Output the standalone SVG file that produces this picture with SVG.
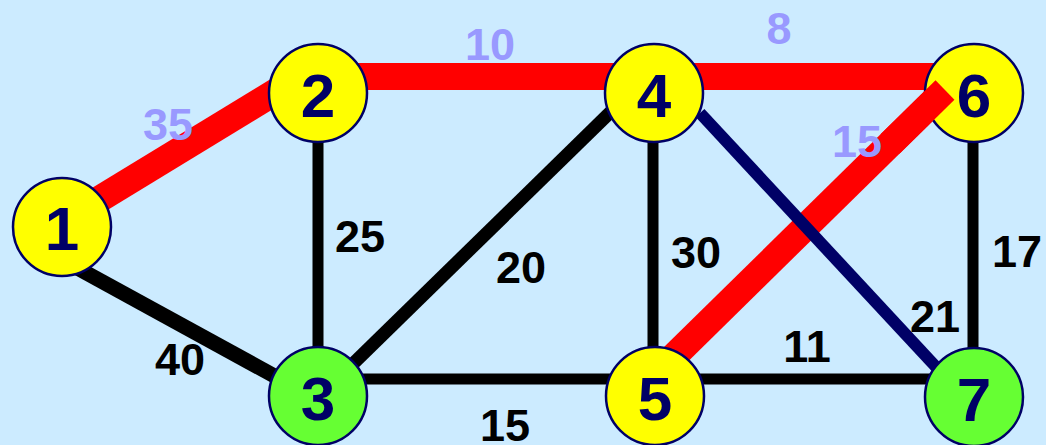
<svg xmlns="http://www.w3.org/2000/svg" width="1046" height="445" viewBox="0 0 1046 445">
<style>
.red{stroke:#FF0000;stroke-width:27;fill:none}
.blk{stroke:#000000;stroke-width:11;fill:none}
.navy{stroke:#000066;stroke-width:12;fill:none}
.node circle{stroke:#000066;stroke-width:2.5}
.yel{fill:#FFFF00}
.grn{fill:#66FF33}
.num{font-family:"Liberation Sans",Arial,sans-serif;font-weight:bold;font-size:62px;fill:#000066;text-anchor:middle}
.lbl{font-family:"Liberation Sans",Arial,sans-serif;font-weight:bold;font-size:45px;text-anchor:middle}
.pale{fill:#9999FF}
.dark{fill:#000000}
</style>
<rect width="1046" height="445" fill="#CCEBFF"/>
<g id="connectors">
<line class="red" x1="62" y1="222" x2="290" y2="83"/>
<line class="red" x1="318" y1="76.5" x2="974" y2="76.5"/>
<line class="red" x1="945" y1="90" x2="660" y2="370"/>
<line class="blk" x1="318" y1="93" x2="318" y2="396"/>
<line class="blk" x1="70" y1="264" x2="300" y2="390" style="stroke-width:15"/>
<line class="blk" x1="318" y1="398" x2="630" y2="93" style="stroke-width:13"/>
<line class="blk" x1="653" y1="93" x2="653" y2="396"/>
<line class="blk" x1="973" y1="93" x2="973" y2="396"/>
<line class="blk" x1="318" y1="379" x2="974" y2="379"/>
<line class="navy" x1="700" y1="113" x2="950" y2="382"/>
</g>
<g id="node1" class="node"><circle class="yel" cx="62" cy="227" r="49"/><text class="num" x="62" y="250">1</text></g>
<g id="node2" class="node"><circle class="yel" cx="318" cy="93" r="49"/><text class="num" x="318" y="117">2</text></g>
<g id="node3" class="node"><circle class="grn" cx="318" cy="396" r="49"/><text class="num" x="318" y="420">3</text></g>
<g id="node4" class="node"><circle class="yel" cx="654" cy="93" r="49"/><text class="num" x="654" y="117">4</text></g>
<g id="node6" class="node"><circle class="yel" cx="974" cy="93" r="49"/><text class="num" x="974" y="117">6</text></g>
<g id="node7" class="node"><circle class="grn" cx="974" cy="397" r="49"/><text class="num" x="974" y="421">7</text></g>
<g id="node5" class="node"><circle class="yel" cx="655" cy="396" r="49"/><text class="num" x="655" y="420">5</text></g>
<g id="connector-overlay">
<line class="red" x1="945" y1="90" x2="890" y2="144"/>
</g>
<g id="labels">
<text class="lbl pale" x="168" y="140">35</text>
<text class="lbl pale" x="490" y="60">10</text>
<text class="lbl pale" x="779" y="44">8</text>
<text class="lbl pale" x="857" y="157">15</text>
<text class="lbl dark" x="360" y="252">25</text>
<text class="lbl dark" x="521" y="283">20</text>
<text class="lbl dark" x="180" y="375">40</text>
<text class="lbl dark" x="505" y="441">15</text>
<text class="lbl dark" x="696" y="268">30</text>
<text class="lbl dark" x="807" y="362">11</text>
<text class="lbl dark" x="935" y="332">21</text>
<text class="lbl dark" x="1017" y="267">17</text>
</g>
</svg>
